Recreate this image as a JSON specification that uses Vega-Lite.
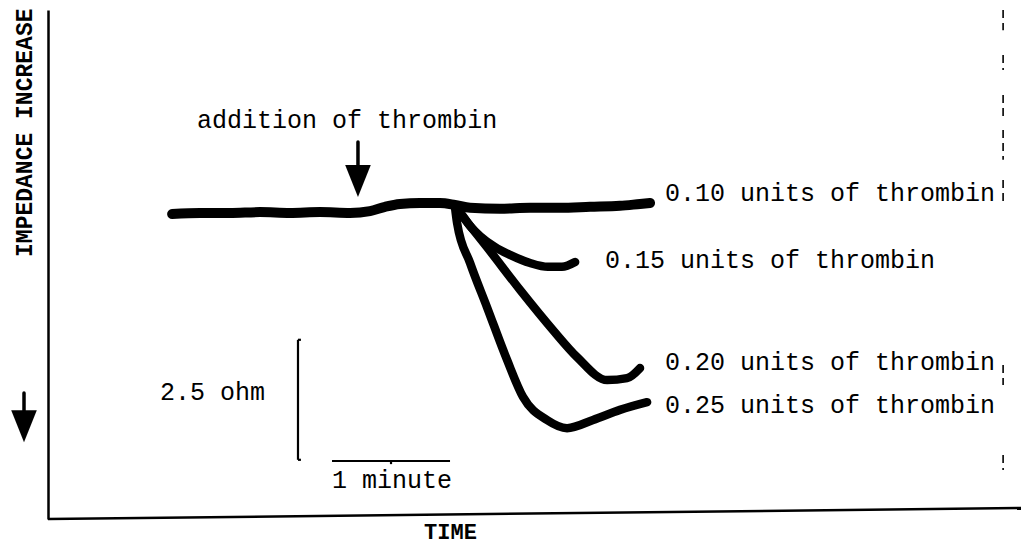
{
  "$schema": "https://vega.github.io/schema/vega-lite/v6.json",
  "width": 973,
  "height": 509,
  "autosize": {"type": "none"},
  "padding": {"left": 48, "top": 10, "right": 0, "bottom": 27},
  "background": "white",
  "config": {"view": {"stroke": null}, "text": {"font": "Liberation Mono"}},
  "datasets": {
    "curves": [
      {"series": "0.10", "t": 63.1, "ohm": 6.27}, {"series": "0.10", "t": 77.3, "ohm": 6.29}, {"series": "0.10", "t": 92.5, "ohm": 6.29},
      {"series": "0.10", "t": 107.8, "ohm": 6.31}, {"series": "0.10", "t": 123.0, "ohm": 6.29}, {"series": "0.10", "t": 138.3, "ohm": 6.31},
      {"series": "0.10", "t": 153.6, "ohm": 6.29}, {"series": "0.10", "t": 163.7, "ohm": 6.33}, {"series": "0.10", "t": 171.4, "ohm": 6.42},
      {"series": "0.10", "t": 179.0, "ohm": 6.48}, {"series": "0.10", "t": 189.1, "ohm": 6.5}, {"series": "0.10", "t": 199.3, "ohm": 6.5},
      {"series": "0.10", "t": 206.9, "ohm": 6.46}, {"series": "0.10", "t": 214.6, "ohm": 6.4}, {"series": "0.10", "t": 229.8, "ohm": 6.38},
      {"series": "0.10", "t": 245.1, "ohm": 6.4}, {"series": "0.10", "t": 260.3, "ohm": 6.4}, {"series": "0.10", "t": 275.6, "ohm": 6.42},
      {"series": "0.10", "t": 290.8, "ohm": 6.44}, {"series": "0.10", "t": 301.0, "ohm": 6.48}, {"series": "0.10", "t": 306.1, "ohm": 6.5},
      {"series": "0.15", "t": 206.9, "ohm": 6.42}, {"series": "0.15", "t": 210.5, "ohm": 6.25}, {"series": "0.15", "t": 214.6, "ohm": 6.02},
      {"series": "0.15", "t": 219.7, "ohm": 5.81}, {"series": "0.15", "t": 227.3, "ohm": 5.58}, {"series": "0.15", "t": 234.9, "ohm": 5.42},
      {"series": "0.15", "t": 245.1, "ohm": 5.25}, {"series": "0.15", "t": 254.2, "ohm": 5.17}, {"series": "0.15", "t": 261.3, "ohm": 5.17},
      {"series": "0.15", "t": 268.0, "ohm": 5.27},
      {"series": "0.20", "t": 206.9, "ohm": 6.42}, {"series": "0.20", "t": 211.0, "ohm": 6.21}, {"series": "0.20", "t": 223.2, "ohm": 5.58},
      {"series": "0.20", "t": 240.0, "ohm": 4.69}, {"series": "0.20", "t": 256.8, "ohm": 3.85}, {"series": "0.20", "t": 269.0, "ohm": 3.29},
      {"series": "0.20", "t": 284.3, "ohm": 2.81}, {"series": "0.20", "t": 294.4, "ohm": 2.85}, {"series": "0.20", "t": 301.0, "ohm": 3.06},
      {"series": "0.25", "t": 206.9, "ohm": 6.42}, {"series": "0.25", "t": 208.0, "ohm": 6.08}, {"series": "0.25", "t": 214.6, "ohm": 5.25},
      {"series": "0.25", "t": 223.2, "ohm": 4.33}, {"series": "0.25", "t": 233.4, "ohm": 3.23}, {"series": "0.25", "t": 241.5, "ohm": 2.46},
      {"series": "0.25", "t": 253.7, "ohm": 1.98}, {"series": "0.25", "t": 263.9, "ohm": 1.81}, {"series": "0.25", "t": 277.1, "ohm": 1.98},
      {"series": "0.25", "t": 290.8, "ohm": 2.19}, {"series": "0.25", "t": 304.6, "ohm": 2.35}
    ],
    "labels": [
      {"text": "0.10 units of thrombin", "t": 313.7, "ohm": 6.54},
      {"text": "0.15 units of thrombin", "t": 283.2, "ohm": 5.15},
      {"text": "0.20 units of thrombin", "t": 313.7, "ohm": 3.02},
      {"text": "0.25 units of thrombin", "t": 313.7, "ohm": 2.125},
      {"text": "addition of thrombin", "t": 75.8, "ohm": 8.06},
      {"text": "2.5 ohm", "t": 56.9, "ohm": 2.4},
      {"text": "1 minute", "t": 144.4, "ohm": 0.5625}
    ],
    "segments": [
      {"kind": "scale", "t": 127.1, "t2": 127.1, "ohm": 3.65, "ohm2": 1.15},
      {"kind": "scale", "t": 127.1, "t2": 128.6, "ohm": 3.65, "ohm2": 3.65},
      {"kind": "scale", "t": 127.1, "t2": 128.6, "ohm": 1.15, "ohm2": 1.15},
      {"kind": "scale", "t": 144.4, "t2": 204.4, "ohm": 1.125, "ohm2": 1.125},
      {"kind": "scale", "t": 174.4, "t2": 174.4, "ohm": 1.125, "ohm2": 1.06},
      {"kind": "dash", "t": 485.6, "t2": 485.6, "ohm": 10.52, "ohm2": 10.1},
      {"kind": "dash", "t": 485.6, "t2": 485.6, "ohm": 9.58, "ohm2": 9.27},
      {"kind": "dash", "t": 485.6, "t2": 485.6, "ohm": 8.75, "ohm2": 8.23},
      {"kind": "dash", "t": 485.6, "t2": 485.6, "ohm": 8.02, "ohm2": 7.4},
      {"kind": "dash", "t": 485.6, "t2": 485.6, "ohm": 6.98, "ohm2": 6.52},
      {"kind": "dash", "t": 485.6, "t2": 485.6, "ohm": 3.125, "ohm2": 2.71},
      {"kind": "dash", "t": 485.6, "t2": 485.6, "ohm": 1.25, "ohm2": 0.94},
      {"kind": "axis", "t": 0, "t2": 494.7, "ohm": -0.083, "ohm2": 0.146},
      {"kind": "shaft", "t": 157.6, "t2": 157.6, "ohm": 7.77, "ohm2": 7.23},
      {"kind": "shaft", "t": -12.2, "t2": -12.2, "ohm": 2.54, "ohm2": 2.15}
    ],
    "arrows": [
      {"t": 157.6, "ohm": 6.96},
      {"t": -12.2, "ohm": 1.85}
    ]
  },
  "encoding": {
    "x": {"field": "t", "type": "quantitative", "scale": {"domain": [0, 494.7], "nice": false, "zero": false},
      "axis": {"domain": false, "ticks": false, "labels": false, "grid": false, "title": "TIME",
        "titleFont": "Liberation Mono", "titleFontSize": 22, "titleFontWeight": "bold", "titleColor": "black",
        "titleX": 402, "titleY": 19, "titleAlign": "center", "titleBaseline": "alphabetic"}},
    "y": {"field": "ohm", "type": "quantitative", "scale": {"domain": [-0.083, 10.52], "nice": false, "zero": false},
      "axis": {"domain": true, "domainColor": "black", "domainWidth": 2.5, "ticks": false, "labels": false, "grid": false,
        "title": "IMPEDANCE INCREASE", "titleFont": "Liberation Mono", "titleFontSize": 23, "titleFontWeight": "bold", "titleColor": "black",
        "titleAngle": 270, "titleX": -24, "titleY": -2, "titleAlign": "right", "titleBaseline": "middle"}}
  },
  "layer": [
    {"data": {"name": "curves"}, "transform": [{"filter": "datum.series === '0.10'"}],
      "mark": {"type": "line", "color": "black", "strokeWidth": 10, "strokeCap": "round", "strokeJoin": "round", "interpolate": "monotone"}},
    {"data": {"name": "curves"}, "transform": [{"filter": "datum.series !== '0.10'"}],
      "mark": {"type": "line", "color": "black", "strokeWidth": 8.5, "strokeCap": "round", "strokeJoin": "round", "interpolate": "monotone"},
      "encoding": {"detail": {"field": "series"}}},
    {"data": {"name": "segments"}, "transform": [{"filter": "datum.kind === 'scale'"}],
      "mark": {"type": "rule", "color": "black", "strokeWidth": 2.2},
      "encoding": {"x2": {"field": "t2"}, "y2": {"field": "ohm2"}}},
    {"data": {"name": "segments"}, "transform": [{"filter": "datum.kind === 'dash'"}],
      "mark": {"type": "rule", "color": "black", "strokeWidth": 1.6, "strokeDash": [8, 5]},
      "encoding": {"x2": {"field": "t2"}, "y2": {"field": "ohm2"}}},
    {"data": {"name": "segments"}, "transform": [{"filter": "datum.kind === 'axis'"}],
      "mark": {"type": "rule", "color": "black", "strokeWidth": 2.5},
      "encoding": {"x2": {"field": "t2"}, "y2": {"field": "ohm2"}}},
    {"data": {"name": "segments"}, "transform": [{"filter": "datum.kind === 'shaft'"}],
      "mark": {"type": "rule", "color": "black", "strokeWidth": 3.5, "strokeCap": "round"},
      "encoding": {"x2": {"field": "t2"}, "y2": {"field": "ohm2"}}},
    {"data": {"name": "arrows"},
      "mark": {"type": "point", "shape": "M-0.8,-1L0.8,-1L0,1Z", "size": 1024, "filled": true, "color": "black", "opacity": 1}},
    {"data": {"name": "labels"},
      "mark": {"type": "text", "font": "Liberation Mono", "fontSize": 25, "align": "left", "baseline": "alphabetic", "color": "black"},
      "encoding": {"text": {"field": "text"}}}
  ]
}
